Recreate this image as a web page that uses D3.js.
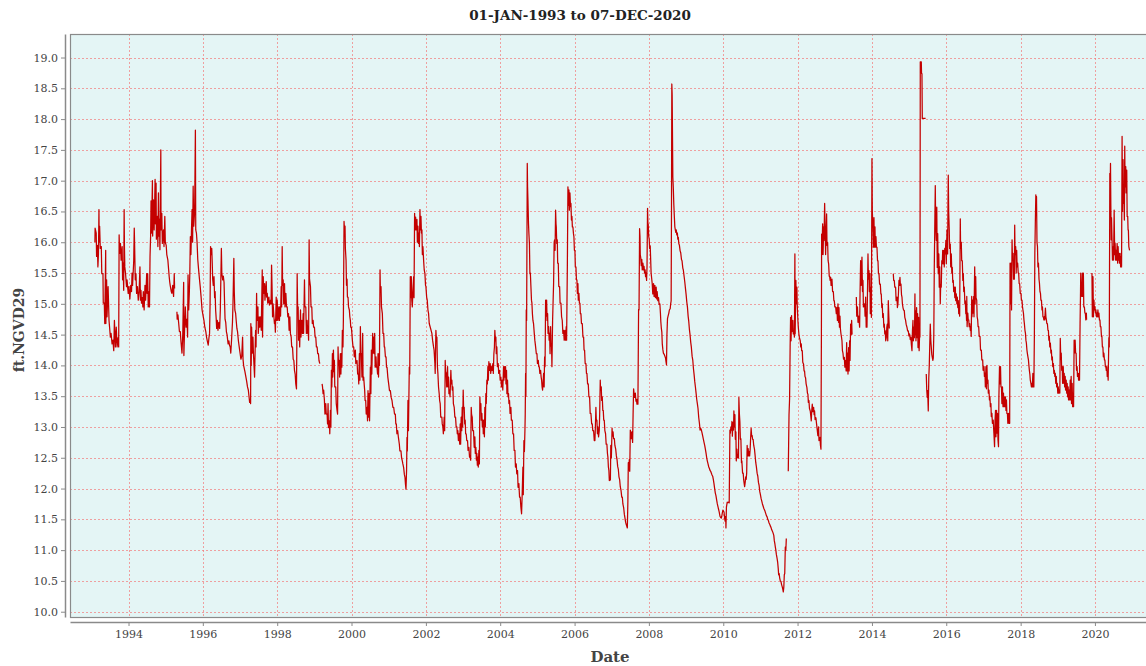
<!DOCTYPE html>
<html>
<head>
<meta charset="utf-8">
<script src="https://cdn.jsdelivr.net/npm/d3@7"></script>
<style>
  body { margin: 0; background: #fff; }
  svg { display: block; }
  text { font-family: "DejaVu Serif", serif; }
</style>
</head>
<body>
<svg id="chart" width="1146" height="666"></svg>
<script>
'use strict';

const chartTitle = '01-JAN-1993 to 07-DEC-2020';
const yLabel = 'ft.NGVD29';
const xLabel = 'Date';

const yTicks = [10.0, 10.5, 11.0, 11.5, 12.0, 12.5, 13.0, 13.5, 14.0, 14.5,
  15.0, 15.5, 16.0, 16.5, 17.0, 17.5, 18.0, 18.5, 19.0];
const xTickYears = [1994, 1996, 1998, 2000, 2002, 2004, 2006, 2008, 2010,
  2012, 2014, 2016, 2018, 2020];

// axis extents (decimal years / feet)
const xExtent = [1992.426, 2021.372];
const yExtent = [9.914, 19.382];

// stage readings: [decimal year, ft NGVD29], null = missing record
const stage1993_1997 = [
  [1993.095,16.0],[1993.10,16.23],[1993.13,16.15],[1993.14,15.77],[1993.16,15.95],[1993.176,15.6],
  [1993.19,15.8],[1993.204,16.53],[1993.21,16.0],[1993.222,16.26],[1993.24,15.9],[1993.267,15.93],
  [1993.28,15.49],[1993.312,15.49],[1993.32,15.01],[1993.348,15.01],[1993.36,14.68],[1993.385,15.87],
  [1993.39,14.68],[1993.41,15.39],[1993.421,14.79],[1993.45,15.28],[1993.475,14.73],[1993.49,14.62],
  [1993.511,14.46],[1993.53,14.52],[1993.557,14.35],[1993.58,14.41],[1993.602,14.24],[1993.62,14.73],
  [1993.647,14.30],[1993.67,14.62],[1993.692,14.30],[1993.72,14.45],[1993.735,14.30],[1993.747,16.12],
  [1993.76,15.82],[1993.783,15.98],[1993.80,15.71],[1993.828,15.93],[1993.84,15.39],[1993.855,15.66],
  [1993.87,15.22],[1993.882,16.53],[1993.89,15.93],[1993.90,15.6],[1993.92,15.49],[1993.946,15.28],
  [1993.96,15.39],[1993.991,15.17],[1994.01,15.28],[1994.036,15.08],[1994.06,15.3],[1994.081,15.2],
  [1994.095,15.5],[1994.109,15.3],[1994.14,15.7],[1994.154,16.23],[1994.165,15.93],[1994.181,15.39],
  [1994.20,15.49],[1994.217,15.17],[1994.24,15.28],[1994.262,15.06],[1994.285,15.2],[1994.308,15.6],
  [1994.32,15.06],[1994.335,15.22],[1994.35,15.01],[1994.371,15.1],[1994.385,14.95],[1994.398,15.2],
  [1994.42,14.9],[1994.443,15.3],[1994.46,15.06],[1994.489,15.49],[1994.50,15.17],[1994.516,15.49],
  [1994.53,14.95],[1994.552,15.2],[1994.565,14.95],[1994.579,15.77],[1994.595,16.1],[1994.606,16.67],
  [1994.62,16.15],[1994.643,17.0],[1994.65,16.1],[1994.67,16.69],[1994.69,16.2],[1994.715,17.02],
  [1994.725,16.3],[1994.742,16.96],[1994.75,16.05],[1994.778,16.42],[1994.79,15.93],[1994.805,16.8],
  [1994.815,16.1],[1994.833,16.37],[1994.845,15.88],[1994.869,17.5],[1994.875,16.2],[1994.896,16.47],
  [1994.91,15.98],[1994.941,16.2],[1994.955,15.93],[1994.977,16.42],[1994.99,16.0],[1995.014,15.95],
  [1995.03,15.8],[1995.059,15.71],[1995.08,15.55],[1995.095,15.44],[1995.11,15.35],[1995.122,15.3],
  [1995.15,15.2],[1995.167,15.17],[1995.19,15.3],[1995.213,15.12],[1995.231,15.49],[1995.24,15.25],
  [1995.27,null],
  [1995.303,14.87],[1995.31,14.75],[1995.33,14.82],[1995.348,14.7],[1995.37,14.55],[1995.394,14.55],
  [1995.41,14.4],[1995.439,14.2],[1995.46,14.5],[1995.484,15.35],[1995.49,14.16],[1995.51,14.6],
  [1995.529,14.95],[1995.55,14.62],[1995.575,14.75],[1995.59,14.46],[1995.602,15.47],[1995.62,14.9],
  [1995.638,15.2],[1995.65,15.5],[1995.665,16.09],[1995.68,15.8],[1995.695,16.2],[1995.71,16.53],
  [1995.725,16.0],[1995.74,16.91],[1995.756,16.26],[1995.78,16.5],[1995.80,17.82],[1995.81,16.2],
  [1995.828,16.15],[1995.845,16.0],[1995.864,15.72],[1995.88,15.6],[1995.91,15.4],[1995.93,15.28],
  [1995.955,15.1],[1995.98,14.9],[1996.009,14.8],[1996.03,14.73],[1996.054,14.62],[1996.08,14.55],
  [1996.10,14.46],[1996.12,14.4],[1996.145,14.33],[1996.165,14.45],[1996.181,14.52],[1996.195,15.0],
  [1996.208,15.93],[1996.22,15.8],[1996.24,15.9],[1996.253,15.66],[1996.265,15.4],[1996.281,15.3],
  [1996.30,15.44],[1996.317,15.1],[1996.33,15.2],[1996.344,14.9],[1996.36,14.75],[1996.371,14.6],
  [1996.39,14.73],[1996.407,14.57],[1996.43,14.7],[1996.452,14.6],[1996.47,14.9],[1996.498,15.9],
  [1996.51,15.5],[1996.534,15.39],[1996.55,15.45],[1996.57,15.35],[1996.585,15.0],[1996.597,14.75],
  [1996.615,14.7],[1996.633,14.55],[1996.65,14.5],[1996.679,14.35],[1996.70,14.4],[1996.715,14.33],
  [1996.735,14.3],[1996.751,14.2],[1996.77,14.4],[1996.796,14.7],[1996.81,15.0],[1996.833,15.74],
  [1996.845,15.2],[1996.86,14.9],[1996.88,14.85],[1996.896,14.73],[1996.915,14.6],[1996.932,14.55],
  [1996.955,14.4],[1996.977,14.3],[1997.00,14.2],[1997.023,14.1],[1997.045,14.15],[1997.068,14.46],
  [1997.08,14.1],[1997.095,14.0],[1997.131,13.9],[1997.16,13.8],[1997.176,13.75],[1997.20,13.65],
  [1997.222,13.6],[1997.24,13.5],[1997.258,13.4],[1997.275,13.45]
];

const stage1997_2002 = [
  [1997.284,13.38],[1997.29,14.68],[1997.30,14.0],[1997.311,14.62],[1997.33,14.2],[1997.347,14.46],
  [1997.36,14.19],[1997.391,13.81],[1997.40,14.1],[1997.418,14.57],[1997.43,14.3],[1997.445,15.17],
  [1997.455,14.73],[1997.481,14.95],[1997.49,14.52],[1997.517,14.79],[1997.53,14.62],[1997.553,14.79],
  [1997.57,14.57],[1997.597,15.55],[1997.605,14.46],[1997.624,15.44],[1997.635,15.17],[1997.66,15.33],
  [1997.67,15.06],[1997.705,15.36],[1997.715,15.11],[1997.732,15.17],[1997.745,15.01],[1997.776,15.11],
  [1997.79,14.98],[1997.821,15.06],[1997.835,15.0],[1997.848,15.63],[1997.86,15.3],[1997.875,14.79],
  [1997.89,15.0],[1997.911,14.79],[1997.925,14.68],[1997.937,14.73],[1997.95,14.54],[1997.973,15.11],
  [1997.985,14.73],[1998.0,15.06],[1998.02,14.73],[1998.045,14.95],[1998.06,14.73],[1998.072,14.95],
  [1998.09,14.8],[1998.107,15.28],[1998.12,14.95],[1998.134,15.93],[1998.145,15.3],[1998.161,15.39],
  [1998.175,15.0],[1998.197,15.33],[1998.21,14.95],[1998.233,15.17],[1998.25,14.95],[1998.269,14.95],
  [1998.285,14.79],[1998.304,14.84],[1998.32,14.57],[1998.34,14.79],[1998.355,14.52],[1998.376,14.46],
  [1998.39,14.3],[1998.412,14.30],[1998.43,14.1],[1998.448,14.08],[1998.465,13.92],[1998.483,13.86],
  [1998.50,13.70],[1998.519,13.62],[1998.53,14.5],[1998.537,15.49],[1998.55,14.9],[1998.564,14.95],
  [1998.575,14.41],[1998.591,14.73],[1998.605,14.30],[1998.627,14.9],[1998.64,14.46],[1998.662,14.73],
  [1998.68,14.52],[1998.698,14.84],[1998.71,14.52],[1998.734,15.39],[1998.745,14.95],[1998.77,14.95],
  [1998.785,14.52],[1998.806,14.73],[1998.82,14.52],[1998.832,14.62],[1998.845,14.41],[1998.859,16.04],
  [1998.87,15.4],[1998.895,15.28],[1998.91,14.95],[1998.931,14.95],[1998.945,14.68],[1998.967,14.73],
  [1998.98,14.62],[1999.002,14.62],[1999.02,14.46],[1999.038,14.46],[1999.055,14.30],[1999.074,14.30],
  [1999.09,14.19],[1999.11,14.19],[1999.125,14.08],[1999.146,14.03],
  [1999.18,null],
  [1999.208,13.70],[1999.22,13.65],[1999.235,13.54],[1999.25,13.6],[1999.271,13.43],[1999.285,13.21],
  [1999.307,13.38],[1999.32,13.21],[1999.343,13.21],[1999.355,13.05],[1999.369,13.38],[1999.38,12.99],
  [1999.405,13.10],[1999.415,12.89],[1999.432,13.27],[1999.445,13.0],[1999.459,13.92],[1999.47,13.65],
  [1999.486,14.19],[1999.495,13.81],[1999.513,14.25],[1999.525,13.9],[1999.539,14.08],[1999.55,13.65],
  [1999.575,13.65],[1999.59,13.38],[1999.611,13.27],[1999.625,13.21],[1999.638,14.30],[1999.65,14.0],
  [1999.665,14.08],[1999.68,13.81],[1999.701,14.19],[1999.715,13.86],[1999.727,14.19],[1999.74,13.97],
  [1999.754,14.57],[1999.77,14.30],[1999.781,14.73],[1999.799,16.34],[1999.81,16.2],[1999.826,16.26],
  [1999.835,15.9],[1999.853,15.71],[1999.865,15.3],[1999.88,15.4],[1999.89,15.11],[1999.906,15.11],
  [1999.92,14.95],[1999.942,14.9],[1999.955,14.79],[1999.969,14.73],[1999.98,14.62],[1999.996,14.62],
  [2000.01,14.52],[2000.023,14.41],[2000.04,14.30],[2000.059,14.30],[2000.075,14.14],[2000.103,14.25],
  [2000.115,14.03],[2000.148,14.08],[2000.165,13.86],[2000.184,13.86],[2000.195,13.70],[2000.211,14.19],
  [2000.225,13.76],[2000.238,14.63],[2000.25,14.2],[2000.264,14.19],[2000.28,13.81],[2000.30,14.52],
  [2000.31,13.76],[2000.327,13.81],[2000.34,13.70],[2000.354,13.59],[2000.365,13.43],[2000.381,13.43],
  [2000.395,13.21],[2000.417,13.32],[2000.43,13.10],[2000.443,13.59],[2000.455,13.16],[2000.47,13.54],
  [2000.485,13.10],[2000.506,13.97],[2000.52,13.54],[2000.533,14.25],[2000.545,13.86],[2000.569,14.52],
  [2000.58,14.2],[2000.596,14.46],[2000.61,14.19],[2000.622,14.52],[2000.635,13.97],[2000.658,14.14],
  [2000.67,13.97],[2000.685,13.97],[2000.70,13.86],[2000.712,14.19],[2000.725,13.81],[2000.739,14.19],
  [2000.75,14.0],[2000.766,15.55],[2000.775,15.2],[2000.792,15.28],[2000.805,14.95],[2000.828,14.84],
  [2000.845,14.52],[2000.864,14.52],[2000.88,14.30],[2000.891,14.30],[2000.91,14.14],[2000.927,14.14],
  [2000.94,13.97],[2000.954,13.97],[2000.975,13.81],[2000.998,13.70],[2001.02,13.59],[2001.043,13.59],
  [2001.065,13.48],[2001.088,13.43],[2001.11,13.32],[2001.133,13.32],[2001.155,13.21],[2001.177,13.21],
  [2001.19,13.05],[2001.204,13.05],[2001.22,12.89],[2001.24,12.94],[2001.26,12.83],[2001.285,12.72],
  [2001.30,12.61],[2001.329,12.61],[2001.345,12.50],[2001.365,12.45],[2001.38,12.40],[2001.401,12.34],
  [2001.42,12.23],[2001.437,12.18],[2001.45,12.07],[2001.464,11.99],[2001.48,12.3],[2001.491,12.83],
  [2001.50,12.61],[2001.517,13.43],[2001.53,12.94],[2001.553,13.97],[2001.565,13.86],[2001.58,15.44],
  [2001.59,15.1],[2001.607,15.44],[2001.62,15.06],[2001.634,14.95],[2001.65,15.2],[2001.67,15.44],
  [2001.68,15.1],[2001.696,16.47],[2001.705,16.2],[2001.723,16.41],[2001.735,16.2],[2001.759,16.37],
  [2001.77,16.0],[2001.786,16.26],[2001.80,15.98],[2001.813,16.15],[2001.825,15.93],[2001.84,16.53],
  [2001.85,16.2],[2001.867,16.42],[2001.88,16.15],[2001.893,16.2],[2001.905,15.8],[2001.92,15.93],
  [2001.938,15.71],[2001.955,15.55],[2001.974,15.49],[2001.99,15.3],[2002.001,15.28],[2002.02,15.11],
  [2002.036,15.06],[2002.055,14.9],[2002.072,14.84],[2002.09,14.68],[2002.117,14.62]
];

const stage2002_2007 = [
  [2002.161,14.52],[2002.18,14.41],[2002.206,14.30],[2002.22,14.25],[2002.242,14.03],[2002.25,13.87],
  [2002.269,14.57],[2002.28,14.46],[2002.296,14.46],[2002.31,13.98],[2002.323,13.87],[2002.34,13.65],
  [2002.358,13.54],[2002.37,13.43],[2002.385,13.38],[2002.40,13.16],[2002.43,13.16],[2002.44,13.05],
  [2002.457,13.00],[2002.47,12.89],[2002.493,13.16],[2002.505,12.94],[2002.52,14.08],[2002.53,13.9],
  [2002.547,13.87],[2002.56,13.65],[2002.583,13.98],[2002.595,13.65],[2002.61,13.81],[2002.62,13.54],
  [2002.637,13.60],[2002.65,13.49],[2002.672,13.92],[2002.685,13.7],[2002.699,13.76],[2002.71,13.6],
  [2002.726,13.65],[2002.74,13.38],[2002.762,13.32],[2002.78,13.16],[2002.798,13.16],[2002.815,13.00],
  [2002.834,13.00],[2002.845,12.89],[2002.861,12.94],[2002.875,12.78],[2002.897,12.89],[2002.91,12.72],
  [2002.924,13.05],[2002.935,12.72],[2002.95,13.16],[2002.965,12.94],[2002.977,13.32],[2002.99,13.0],
  [2003.004,13.60],[2003.015,13.3],[2003.031,13.32],[2003.045,13.05],[2003.058,13.11],[2003.07,12.89],
  [2003.085,12.89],[2003.10,12.78],[2003.121,12.78],[2003.135,12.62],[2003.157,12.67],[2003.175,12.51],
  [2003.193,12.51],[2003.205,12.46],[2003.22,13.32],[2003.23,13.2],[2003.247,13.16],[2003.26,12.94],
  [2003.282,12.94],[2003.30,12.67],[2003.318,12.84],[2003.33,12.57],[2003.345,12.67],[2003.36,12.46],
  [2003.372,12.57],[2003.385,12.38],[2003.399,12.51],[2003.41,12.35],[2003.426,12.62],[2003.44,12.40],
  [2003.453,13.49],[2003.465,13.3],[2003.48,13.38],[2003.49,13.11],[2003.507,13.22],[2003.52,13.0],
  [2003.534,13.11],[2003.545,12.89],[2003.56,13.11],[2003.575,12.84],[2003.587,13.32],[2003.60,13.0],
  [2003.614,13.54],[2003.625,13.38],[2003.641,13.76],[2003.655,13.7],[2003.668,13.98],[2003.68,13.76],
  [2003.695,14.06],[2003.71,13.92],[2003.731,14.03],[2003.745,13.87],[2003.767,13.98],[2003.78,13.92],
  [2003.803,14.03],[2003.815,13.87],[2003.83,14.19],[2003.845,14.3],[2003.856,14.57],[2003.87,14.4],
  [2003.883,14.46],[2003.895,14.19],[2003.91,14.30],[2003.925,13.98],[2003.946,14.03],[2003.96,13.87],
  [2003.982,13.92],[2004.0,13.76],[2004.018,13.81],[2004.035,13.65],[2004.054,13.76],[2004.07,13.60],
  [2004.09,13.98],[2004.10,13.76],[2004.117,13.98],[2004.13,13.81],[2004.144,13.98],[2004.155,13.70],
  [2004.17,13.92],[2004.18,13.54],[2004.197,13.76],[2004.21,13.49],[2004.224,13.54],[2004.235,13.38],
  [2004.251,13.43],[2004.265,13.22],[2004.287,13.32],[2004.30,13.11],[2004.323,13.11],[2004.34,12.89],
  [2004.359,12.89],[2004.375,12.62],[2004.395,12.62],[2004.41,12.35],[2004.431,12.40],[2004.445,12.24],
  [2004.466,12.29],[2004.48,12.02],[2004.502,12.08],[2004.52,11.86],[2004.538,11.86],[2004.555,11.70],
  [2004.574,11.59],[2004.59,11.9],[2004.61,12.35],[2004.62,11.9],[2004.637,12.78],[2004.65,12.6],
  [2004.664,12.94],[2004.672,13.2],[2004.682,13.87],[2004.69,13.5],[2004.70,14.9],[2004.71,14.73],
  [2004.727,17.28],[2004.735,16.9],[2004.745,16.69],[2004.76,16.3],[2004.771,16.14],[2004.785,15.98],
  [2004.798,15.49],[2004.81,15.5],[2004.825,15.28],[2004.84,15.06],[2004.852,15.01],[2004.865,14.84],
  [2004.879,14.73],[2004.895,14.68],[2004.915,14.52],[2004.93,14.41],[2004.951,14.30],[2004.97,14.19],
  [2004.987,14.19],[2005.0,14.03],[2005.023,14.08],[2005.035,13.98],[2005.049,13.98],[2005.065,13.87],
  [2005.085,13.92],[2005.10,13.81],[2005.112,13.76],[2005.125,13.65],[2005.139,13.60],[2005.15,13.7],
  [2005.166,13.87],[2005.18,13.65],[2005.193,14.14],[2005.205,13.98],[2005.22,15.06],[2005.23,14.8],
  [2005.247,15.06],[2005.26,14.73],[2005.274,14.84],[2005.285,14.52],[2005.301,14.63],[2005.315,14.41],
  [2005.328,14.52],[2005.34,14.19],[2005.354,14.63],[2005.365,14.35],[2005.381,14.30],[2005.39,13.98],
  [2005.408,14.73],[2005.42,15.0],[2005.435,15.33],[2005.45,16.0],[2005.462,16.04],[2005.475,15.87],
  [2005.489,16.52],[2005.50,16.3],[2005.507,16.25],[2005.52,15.98],[2005.534,16.04],[2005.545,15.66],
  [2005.561,15.66],[2005.575,15.28],[2005.597,15.28],[2005.61,15.01],[2005.633,15.01],[2005.65,14.79],
  [2005.668,14.73],[2005.685,14.52],[2005.704,14.57],[2005.72,14.41],[2005.74,14.57],[2005.755,14.41],
  [2005.776,14.63],[2005.785,14.41],[2005.794,14.95],[2005.805,15.6],[2005.821,16.90],[2005.835,16.6],
  [2005.848,16.85],[2005.86,16.52],[2005.875,16.80],[2005.89,16.58],[2005.902,16.63],[2005.915,16.36],
  [2005.929,16.42],[2005.94,16.25],[2005.955,16.25],[2005.97,16.14],[2005.982,16.09],[2005.995,15.87],
  [2006.009,15.87],[2006.02,15.6],[2006.036,15.60],[2006.05,15.39],[2006.063,15.39],[2006.075,15.17],
  [2006.09,15.33],[2006.10,15.06],[2006.117,15.17],[2006.13,15.01],[2006.144,15.01],[2006.155,14.84],
  [2006.171,14.84],[2006.185,14.68],[2006.207,14.68],[2006.225,14.46],[2006.243,14.46],[2006.255,14.25],
  [2006.269,14.25],[2006.285,14.03],[2006.305,14.03],[2006.32,13.87],[2006.332,13.87],[2006.35,13.70],
  [2006.368,13.70],[2006.385,13.49],[2006.404,13.49],[2006.42,13.22],[2006.44,13.22],[2006.46,13.05],
  [2006.476,13.05],[2006.49,12.94],[2006.512,12.94],[2006.53,12.78],[2006.547,12.78],[2006.56,13.0],
  [2006.574,13.32],[2006.585,13.1],[2006.601,13.11],[2006.615,12.89],[2006.628,13.0],[2006.645,12.84],
  [2006.664,12.94],[2006.675,13.2],[2006.691,13.76],[2006.70,13.6],[2006.718,13.65],[2006.73,13.43],
  [2006.745,13.49],[2006.76,13.27],[2006.772,13.27],[2006.785,13.11],[2006.799,13.11],[2006.815,12.94],
  [2006.834,12.89],[2006.85,12.72],[2006.87,12.72],[2006.885,12.57],[2006.897,12.51],[2006.91,12.35],
  [2006.924,12.29],[2006.935,12.13]
];

const stage2007_2011 = [
  [2006.964,12.14],[2006.975,12.7],[2006.99,12.5],[2007.009,12.98],[2007.02,12.85],[2007.036,12.92],
  [2007.05,12.81],[2007.071,12.81],[2007.085,12.70],[2007.107,12.64],[2007.125,12.53],[2007.143,12.47],
  [2007.16,12.36],[2007.178,12.31],[2007.195,12.19],[2007.214,12.14],[2007.23,12.03],[2007.25,11.97],
  [2007.27,11.86],[2007.286,11.86],[2007.30,11.75],[2007.321,11.69],[2007.34,11.58],[2007.357,11.52],
  [2007.375,11.45],[2007.393,11.41],[2007.41,11.38],[2007.42,11.36],[2007.435,11.8],[2007.446,12.42],
  [2007.46,12.3],[2007.473,12.47],[2007.485,12.28],[2007.50,12.95],[2007.515,12.9],[2007.527,12.81],
  [2007.545,12.92],[2007.562,12.75],[2007.575,13.2],[2007.589,13.62],[2007.60,13.55],[2007.616,13.48],
  [2007.635,13.55],[2007.652,13.42],[2007.665,13.45],[2007.679,13.37],[2007.69,13.45],[2007.705,13.37],
  [2007.723,14.91],[2007.735,14.9],[2007.75,16.22],[2007.76,16.1],[2007.768,15.80],[2007.78,15.75],
  [2007.795,15.62],[2007.81,15.72],[2007.821,15.55],[2007.84,15.66],[2007.857,15.55],[2007.87,15.61],
  [2007.884,15.50],[2007.90,15.55],[2007.911,15.44],[2007.925,15.50],[2007.938,15.38],[2007.95,15.6],
  [2007.964,16.55],[2007.975,16.3],[2007.982,16.3],[2007.995,16.1],[2008.009,16.05],[2008.02,15.9],
  [2008.036,15.94],[2008.06,15.5],[2008.089,15.33],[2008.105,15.16],[2008.125,15.33],[2008.14,15.12],
  [2008.161,15.30],[2008.175,15.10],[2008.196,15.27],[2008.21,15.08],[2008.223,15.20],[2008.24,15.05],
  [2008.259,15.10],[2008.275,14.99],[2008.295,15.0],[2008.31,14.85],[2008.321,14.71],[2008.335,14.6],
  [2008.348,14.54],[2008.36,14.35],[2008.375,14.26],[2008.39,14.2],[2008.411,14.18],[2008.43,14.15],
  [2008.447,14.12],[2008.46,14.06],[2008.473,14.01],[2008.485,14.5],[2008.50,14.76],[2008.515,14.8],
  [2008.536,14.85],[2008.55,14.9],[2008.572,14.92],[2008.585,15.0],[2008.598,15.05],[2008.607,16.5],
  [2008.616,18.57],[2008.625,18.4],[2008.643,17.06],[2008.655,16.9],[2008.67,16.61],[2008.685,16.4],
  [2008.697,16.25],[2008.71,16.2],[2008.723,16.16],[2008.735,16.2],[2008.75,16.12],[2008.765,16.15],
  [2008.777,16.05],[2008.79,16.08],[2008.804,15.98],[2008.82,15.95],[2008.839,15.86],[2008.855,15.83],
  [2008.875,15.72],[2008.89,15.7],[2008.911,15.58],[2008.925,15.55],[2008.947,15.44],[2008.965,15.35],
  [2008.982,15.25],[2009.0,15.15],[2009.018,15.03],[2009.035,14.95],[2009.054,14.80],[2009.07,14.72],
  [2009.089,14.58],[2009.105,14.5],[2009.125,14.37],[2009.14,14.3],[2009.161,14.15],[2009.18,14.08],
  [2009.197,13.95],[2009.215,13.85],[2009.232,13.74],[2009.25,13.65],[2009.268,13.55],[2009.285,13.45],
  [2009.304,13.37],[2009.32,13.3],[2009.34,13.15],[2009.36,13.05],[2009.375,12.95],[2009.39,12.98],
  [2009.411,12.95],[2009.43,12.9],[2009.447,12.85],[2009.465,12.8],[2009.482,12.75],[2009.50,12.7],
  [2009.518,12.64],[2009.535,12.58],[2009.554,12.5],[2009.57,12.45],[2009.59,12.4],[2009.61,12.35],
  [2009.625,12.33],[2009.64,12.3],[2009.661,12.28],[2009.68,12.25],[2009.697,12.22],[2009.715,12.2],
  [2009.732,12.15],[2009.75,12.08],[2009.768,12.0],[2009.785,11.93],[2009.804,11.88],[2009.82,11.82],
  [2009.84,11.75],[2009.86,11.7],[2009.875,11.66],[2009.89,11.62],[2009.911,11.55],[2009.93,11.53],
  [2009.947,11.52],[2009.96,11.55],[2009.974,11.6],[2009.99,11.65],[2010.0,11.64],[2010.02,11.62],
  [2010.036,11.52],[2010.05,11.47],[2010.065,11.55],[2010.072,11.36],[2010.085,11.7],[2010.107,11.78],
  [2010.125,11.77],[2010.143,11.78],[2010.16,11.77],[2010.179,12.95],[2010.19,12.9],[2010.206,13.0],
  [2010.22,12.95],[2010.233,13.09],[2010.245,12.85],[2010.259,13.07],[2010.275,12.95],[2010.286,13.26],
  [2010.30,13.0],[2010.313,13.2],[2010.325,12.8],[2010.34,12.92],[2010.35,12.45],[2010.367,12.64],
  [2010.38,12.5],[2010.393,12.55],[2010.41,12.5],[2010.42,13.48],[2010.435,13.2],[2010.447,13.09],
  [2010.46,12.8],[2010.474,12.81],[2010.49,12.42],[2010.50,12.45],[2010.52,12.25],[2010.536,12.25],
  [2010.55,12.14],[2010.563,12.08],[2010.575,12.03],[2010.59,12.10],[2010.605,12.19],[2010.617,12.15],
  [2010.63,12.25],[2010.643,12.7],[2010.655,12.53],[2010.67,12.65],[2010.685,12.53],[2010.697,12.60],
  [2010.71,12.53],[2010.724,12.64],[2010.735,12.8],[2010.75,12.98],[2010.765,12.85],[2010.777,12.86],
  [2010.79,12.80],[2010.804,12.80],[2010.82,12.70],[2010.84,12.64],[2010.855,12.55],[2010.875,12.42],
  [2010.89,12.36],[2010.911,12.25],[2010.93,12.2],[2010.947,12.1],[2010.965,12.05],[2010.983,11.95],
  [2011.0,11.9],[2011.018,11.84],[2011.035,11.8],[2011.054,11.75],[2011.07,11.72],[2011.09,11.68],
  [2011.105,11.66],[2011.125,11.63],[2011.14,11.6],[2011.161,11.56],[2011.18,11.54],[2011.197,11.5],
  [2011.215,11.48],[2011.233,11.44],[2011.25,11.42],[2011.268,11.39],[2011.285,11.37],[2011.304,11.33],
  [2011.32,11.31],[2011.34,11.28],[2011.36,11.24],[2011.375,11.15],[2011.39,11.1],[2011.402,11.05],
  [2011.415,11.0],[2011.429,10.93],[2011.445,10.88],[2011.465,10.80],[2011.48,10.7],[2011.491,10.60],
  [2011.505,10.62],[2011.518,10.55],[2011.535,10.5],[2011.554,10.49],[2011.57,10.44],[2011.59,10.40],
  [2011.605,10.36],[2011.616,10.32],[2011.63,10.4],[2011.643,10.6],[2011.655,10.62],[2011.67,11.05],
  [2011.685,11.0],[2011.697,11.19],
  [2011.72,null],
  [2011.75,12.28],[2011.77,13.2]
];

const stage2011_2016 = [
  [2011.785,13.45],[2011.80,14.3],[2011.812,14.78],[2011.825,14.40],[2011.839,14.81],[2011.85,14.55],
  [2011.874,14.73],[2011.885,14.51],[2011.901,14.56],[2011.915,14.46],[2011.928,15.81],[2011.935,14.51],
  [2011.955,15.38],[2011.965,15.0],[2011.982,15.27],[2011.99,15.0],[2012.009,14.73],[2012.02,14.62],
  [2012.036,14.51],[2012.05,14.45],[2012.072,14.40],[2012.085,14.30],[2012.099,14.35],[2012.11,14.24],
  [2012.126,14.24],[2012.14,14.05],[2012.161,14.02],[2012.175,13.91],[2012.188,13.91],[2012.20,13.82],
  [2012.215,13.80],[2012.23,13.70],[2012.251,13.64],[2012.265,13.55],[2012.278,13.53],[2012.29,13.40],
  [2012.305,13.43],[2012.32,13.30],[2012.341,13.26],[2012.355,13.18],[2012.368,13.10],[2012.38,13.26],
  [2012.395,13.37],[2012.41,13.25],[2012.431,13.32],[2012.445,13.2],[2012.457,13.26],[2012.47,13.12],
  [2012.493,13.15],[2012.51,13.05],[2012.529,12.95],[2012.545,12.86],[2012.565,13.0],[2012.575,12.78],
  [2012.601,12.83],[2012.615,12.7],[2012.628,12.64],[2012.64,14.5],[2012.646,16.13],[2012.655,15.8],
  [2012.673,16.3],[2012.685,15.8],[2012.70,16.25],[2012.71,16.03],[2012.727,16.63],[2012.74,16.2],
  [2012.753,15.8],[2012.765,16.1],[2012.78,16.46],[2012.79,15.95],[2012.807,16.0],[2012.82,15.7],
  [2012.834,15.65],[2012.85,15.45],[2012.861,15.45],[2012.875,15.38],[2012.888,15.43],[2012.90,15.3],
  [2012.924,15.40],[2012.94,15.2],[2012.96,15.20],[2012.975,15.05],[2012.987,15.05],[2013.0,14.95],
  [2013.023,14.95],[2013.04,14.84],[2013.058,14.94],[2013.07,14.73],[2013.085,15.0],[2013.10,14.7],
  [2013.112,14.94],[2013.125,14.62],[2013.139,14.8],[2013.15,14.6],[2013.166,14.51],[2013.18,14.46],
  [2013.193,14.40],[2013.205,14.24],[2013.22,14.2],[2013.235,14.1],[2013.256,14.13],[2013.27,13.97],
  [2013.292,14.08],[2013.305,13.91],[2013.319,14.37],[2013.33,13.91],[2013.346,14.2],[2013.355,13.86],
  [2013.372,14.29],[2013.385,13.91],[2013.399,14.40],[2013.41,14.08],[2013.426,14.67],[2013.44,14.5],
  [2013.453,14.73],[2013.465,14.5],
  [2013.52,null],
  [2013.579,15.11],[2013.59,14.8],[2013.61,14.95],[2013.624,14.70],[2013.645,14.8],[2013.668,14.62],
  [2013.68,15.2],[2013.695,15.70],[2013.71,15.3],[2013.731,15.76],[2013.745,15.2],[2013.758,15.38],
  [2013.77,14.95],[2013.803,15.0],[2013.815,14.8],[2013.83,15.11],[2013.845,14.62],[2013.866,14.62],
  [2013.88,15.2],[2013.893,15.81],[2013.905,15.4],[2013.92,15.54],[2013.93,15.2],[2013.946,15.49],
  [2013.955,14.84],[2013.973,15.27],[2013.985,14.78],[2014.0,17.36],[2014.01,16.5],[2014.027,16.25],
  [2014.04,15.92],[2014.054,16.4],[2014.065,15.92],[2014.081,16.25],[2014.09,15.92],[2014.108,16.09],
  [2014.12,15.92],[2014.135,15.92],[2014.15,15.70],[2014.162,15.70],[2014.175,15.49],[2014.189,15.49],
  [2014.205,15.32],[2014.225,15.32],[2014.24,15.16],[2014.251,15.16],[2014.265,14.94],[2014.278,15.0],
  [2014.29,14.78],[2014.305,14.84],[2014.32,14.62],[2014.332,14.67],[2014.345,14.51],[2014.359,14.56],
  [2014.37,14.4],[2014.386,14.45],[2014.40,14.62],[2014.413,14.67],[2014.425,14.4],[2014.44,15.05],
  [2014.455,14.78],[2014.467,14.6],
  [2014.52,null],
  [2014.574,15.49],[2014.585,15.38],[2014.601,15.38],[2014.615,15.27],[2014.637,15.27],[2014.65,15.05],
  [2014.673,15.11],[2014.685,14.94],[2014.70,15.0],[2014.715,15.2],[2014.727,15.38],[2014.74,15.3],
  [2014.754,15.43],[2014.765,15.3],[2014.781,15.32],[2014.795,15.15],[2014.808,15.11],[2014.82,15.0],
  [2014.835,14.94],[2014.85,14.90],[2014.87,14.89],[2014.885,14.78],[2014.906,14.73],[2014.92,14.67],
  [2014.942,14.62],[2014.96,14.56],[2014.978,14.56],[2014.995,14.48],[2015.014,14.51],[2015.03,14.42],
  [2015.05,14.46],[2015.06,14.35],[2015.077,14.24],[2015.09,14.56],[2015.104,14.73],[2015.115,14.4],
  [2015.131,14.62],[2015.145,14.45],[2015.157,15.16],[2015.165,14.5],[2015.175,14.89],[2015.185,14.40],
  [2015.202,14.94],[2015.215,14.45],[2015.229,14.84],[2015.24,14.29],[2015.256,14.78],[2015.27,14.24],
  [2015.283,14.51],[2015.292,14.46],[2015.301,18.93],[2015.328,18.93],[2015.335,18.74],[2015.346,18.74],
  [2015.355,18.01],[2015.40,18.01],[2015.444,18.01],
  [2015.453,null],
  [2015.462,13.86],[2015.475,13.6],[2015.489,13.48],[2015.50,13.59],[2015.516,13.26],[2015.53,13.8],
  [2015.543,14.0],[2015.555,14.3],[2015.57,14.67],[2015.585,14.4],[2015.597,14.3],[2015.61,14.18],
  [2015.624,14.13],[2015.64,14.08],[2015.651,14.12],[2015.665,14.5],[2015.678,15.6],[2015.69,16.2],
  [2015.705,16.92],[2015.715,16.3],[2015.732,16.03],[2015.745,16.57],[2015.758,15.59],[2015.77,16.14],
  [2015.785,15.49],[2015.80,15.81],[2015.812,15.27],[2015.825,15.6],[2015.839,15.0],[2015.85,15.3],
  [2015.866,15.27],[2015.88,15.7],[2015.893,15.65],[2015.905,15.87],[2015.92,15.65],[2015.935,15.87],
  [2015.947,15.6],[2015.96,15.9],[2015.974,15.81],[2015.99,16.03],[2016.001,15.65],[2016.02,16.2],
  [2016.037,15.81],[2016.045,16.5],[2016.054,17.09],[2016.065,16.5],[2016.081,16.19],[2016.09,15.9],
  [2016.108,15.97],[2016.12,15.6],[2016.135,15.81],[2016.15,15.5],[2016.162,15.59],[2016.175,15.35],
  [2016.189,15.38],[2016.20,15.2],[2016.216,15.27],[2016.23,15.1],[2016.243,15.27],[2016.255,15.05],
  [2016.27,15.16],[2016.285,15.0],[2016.297,15.11],[2016.31,14.94],[2016.324,15.05],[2016.335,14.84],
  [2016.35,14.95],[2016.36,14.8],[2016.377,16.38],[2016.385,15.9],[2016.404,16.0],[2016.415,15.7],
  [2016.431,15.7],[2016.445,15.38],[2016.458,15.49],[2016.47,15.2],[2016.485,15.27],[2016.50,15.0],
  [2016.512,15.05],[2016.525,14.84],[2016.539,14.84],[2016.545,14.73]
];

const stage2016_2020 = [
  [2016.551,15.12],[2016.56,14.63],[2016.578,14.85],[2016.59,14.74],[2016.604,14.74],[2016.615,14.63],
  [2016.631,14.68],[2016.645,14.57],[2016.658,14.63],[2016.67,14.47],[2016.684,15.12],[2016.69,14.79],
  [2016.711,15.06],[2016.72,14.85],[2016.737,15.12],[2016.745,14.79],[2016.764,15.60],[2016.775,15.0],
  [2016.791,15.44],[2016.80,15.1],[2016.818,15.06],[2016.83,14.79],[2016.844,14.74],[2016.855,14.63],
  [2016.871,14.63],[2016.885,14.47],[2016.907,14.47],[2016.92,14.25],[2016.942,14.25],[2016.955,14.09],
  [2016.978,14.09],[2016.99,13.92],[2017.013,13.98],[2017.025,13.82],[2017.04,13.87],[2017.05,13.65],
  [2017.066,13.98],[2017.08,13.62],[2017.093,14.0],[2017.105,13.71],[2017.12,13.76],[2017.13,13.55],
  [2017.147,13.60],[2017.16,13.44],[2017.173,13.49],[2017.185,13.33],[2017.20,13.38],[2017.21,13.17],
  [2017.227,13.22],[2017.24,13.06],[2017.262,13.11],[2017.28,12.90],[2017.298,12.68],[2017.31,13.1],
  [2017.324,13.27],[2017.335,12.84],[2017.351,13.27],[2017.365,12.9],[2017.378,13.22],[2017.39,12.79],
  [2017.404,12.68],[2017.415,13.5],[2017.431,13.98],[2017.44,13.7],[2017.458,13.98],[2017.47,13.65],
  [2017.484,13.65],[2017.495,13.38],[2017.511,13.65],[2017.525,13.33],[2017.538,13.55],[2017.55,13.33],
  [2017.564,13.49],[2017.575,13.33],[2017.591,13.49],[2017.605,13.27],[2017.618,13.44],[2017.63,13.22],
  [2017.644,13.22],[2017.655,13.06],[2017.671,13.22],[2017.685,13.06],[2017.698,13.22],[2017.705,13.06],
  [2017.715,15.66],[2017.725,15.0],[2017.742,15.66],[2017.755,14.9],[2017.769,16.04],[2017.78,15.7],
  [2017.796,15.82],[2017.81,15.4],[2017.822,15.6],[2017.83,15.4],[2017.84,16.28],[2017.85,15.8],
  [2017.867,15.93],[2017.88,15.5],[2017.893,15.87],[2017.905,15.6],[2017.92,15.66],[2017.935,15.50],
  [2017.947,15.50],[2017.96,15.33],[2017.973,15.33],[2017.99,15.17],[2018.009,15.17],[2018.02,15.06],
  [2018.036,15.06],[2018.05,14.95],[2018.062,14.90],[2018.075,14.85],[2018.089,14.74],[2018.10,14.68],
  [2018.116,14.57],[2018.13,14.52],[2018.142,14.41],[2018.155,14.36],[2018.169,14.25],[2018.18,14.20],
  [2018.196,14.14],[2018.21,14.09],[2018.222,14.0],[2018.235,13.92],[2018.249,13.85],[2018.26,13.76],
  [2018.276,13.71],[2018.29,13.65],[2018.302,13.71],[2018.315,13.65],[2018.329,13.87],[2018.34,13.65],
  [2018.356,13.65],[2018.37,14.5],[2018.382,15.82],[2018.395,16.3],[2018.409,16.77],[2018.418,16.5],
  [2018.427,16.74],[2018.44,16.0],[2018.453,15.93],[2018.465,15.6],[2018.48,15.66],[2018.495,15.4],
  [2018.507,15.33],[2018.52,15.2],[2018.534,15.17],[2018.545,15.06],[2018.56,15.06],[2018.575,14.9],
  [2018.587,14.95],[2018.60,14.79],[2018.613,14.79],[2018.625,14.74],[2018.64,14.79],[2018.65,14.74],
  [2018.667,14.93],[2018.68,14.79],[2018.693,14.74],[2018.705,14.68],[2018.72,14.68],[2018.735,14.57],
  [2018.747,14.57],[2018.76,14.41],[2018.773,14.47],[2018.785,14.30],[2018.80,14.36],[2018.815,14.20],
  [2018.827,14.25],[2018.84,14.09],[2018.853,14.14],[2018.865,13.98],[2018.88,14.03],[2018.895,13.87],
  [2018.907,13.92],[2018.92,13.82],[2018.933,13.87],[2018.945,13.71],[2018.96,13.82],[2018.97,13.65],
  [2018.987,13.71],[2019.0,13.55],[2019.013,13.65],[2019.025,13.55],[2019.04,13.60],[2019.055,13.55],
  [2019.067,14.44],[2019.08,14.1],[2019.093,14.20],[2019.105,13.92],[2019.12,13.98],[2019.13,13.71],
  [2019.147,13.98],[2019.16,13.71],[2019.173,13.87],[2019.185,13.65],[2019.20,13.82],[2019.21,13.60],
  [2019.227,13.76],[2019.24,13.55],[2019.253,13.71],[2019.265,13.49],[2019.28,13.65],[2019.29,13.44],
  [2019.307,13.60],[2019.32,13.44],[2019.334,13.76],[2019.345,13.44],[2019.36,13.82],[2019.37,13.38],
  [2019.387,13.71],[2019.40,13.33],[2019.413,13.55],[2019.425,13.33],[2019.44,14.41],[2019.45,14.2],
  [2019.467,14.41],[2019.48,14.2],[2019.493,14.20],[2019.505,13.92],[2019.52,13.98],[2019.53,13.82],
  [2019.547,13.87],[2019.56,13.76],[2019.574,13.87],[2019.585,13.76],[2019.60,14.68],[2019.61,15.1],
  [2019.618,15.50],[2019.625,15.2],[2019.636,15.28],[2019.645,15.12],[2019.662,15.50],[2019.675,15.12],
  [2019.689,15.50],[2019.70,14.95],[2019.716,14.95],[2019.73,14.85],[2019.742,14.85],[2019.755,14.74],
  [2019.769,14.85],[2019.775,14.74],
  [2019.85,null],
  [2019.92,15.50],[2019.93,14.79],[2019.947,15.44],[2019.96,14.79],[2019.974,15.06],[2019.985,14.90],
  [2020.0,14.95],[2020.015,14.85],[2020.027,14.90],[2020.04,14.79],[2020.054,14.85],[2020.065,14.79],
  [2020.08,14.90],[2020.09,14.79],[2020.107,14.85],[2020.12,14.74],[2020.134,14.74],[2020.145,14.63],
  [2020.16,14.63],[2020.175,14.47],[2020.187,14.47],[2020.20,14.30],[2020.214,14.30],[2020.225,14.14],
  [2020.24,14.20],[2020.255,14.09],[2020.267,14.09],[2020.28,13.98],[2020.294,13.98],[2020.305,13.92],
  [2020.32,13.98],[2020.33,13.82],[2020.347,13.87],[2020.355,13.76],[2020.374,14.45],[2020.385,14.3],
  [2020.40,17.12],[2020.41,16.9],[2020.418,17.28],[2020.427,16.6],[2020.436,16.04],[2020.445,16.4],
  [2020.462,15.98],[2020.47,15.71],[2020.489,15.93],[2020.50,15.71],[2020.516,16.52],[2020.53,15.8],
  [2020.542,15.98],[2020.555,15.71],[2020.569,15.87],[2020.58,15.71],[2020.596,15.98],[2020.61,15.66],
  [2020.622,15.93],[2020.635,15.71],[2020.649,15.82],[2020.66,15.66],[2020.676,15.82],[2020.69,15.60],
  [2020.703,15.77],[2020.715,15.60],[2020.729,17.72],[2020.74,16.5],[2020.756,17.34],[2020.765,16.63],
  [2020.783,16.63],[2020.79,16.36],[2020.80,17.56],[2020.81,16.9],[2020.827,17.23],[2020.835,16.80],
  [2020.854,17.17],[2020.865,16.42],[2020.88,16.42],[2020.89,16.2],[2020.898,16.20],[2020.91,15.93],
  [2020.93,15.87]
];

const stage = [].concat(stage1993_1997, stage1997_2002, stage2002_2007,
  stage2007_2011, stage2011_2016, stage2016_2020);

// decimal year -> UTC date
function decYear(y) {
  const yr = Math.floor(y);
  const a = Date.UTC(yr, 0, 1);
  const b = Date.UTC(yr + 1, 0, 1);
  return new Date(a + (y - yr) * (b - a));
}

const plot = { left: 70, top: 34, right: 1146, bottom: 617 };

const svg = d3.select('#chart');

const x = d3.scaleUtc()
  .domain(xExtent.map(decYear))
  .range([plot.left, plot.right]);

const y = d3.scaleLinear()
  .domain(yExtent)
  .range([plot.bottom, plot.top]);

// plot background
svg.append('rect')
  .attr('x', plot.left)
  .attr('y', plot.top)
  .attr('width', plot.right - plot.left)
  .attr('height', plot.bottom - plot.top)
  .attr('fill', '#e4f5f5');

// grid
const grid = svg.append('g')
  .attr('stroke', '#f27a7a')
  .attr('stroke-opacity', 0.7)
  .attr('stroke-width', 1)
  .attr('stroke-dasharray', '2,2');

grid.selectAll('line.h')
  .data(yTicks)
  .enter()
  .append('line')
  .attr('class', 'h')
  .attr('x1', plot.left)
  .attr('x2', plot.right)
  .attr('y1', d => Math.round(y(d)) + 0.5)
  .attr('y2', d => Math.round(y(d)) + 0.5);

grid.selectAll('line.v')
  .data(xTickYears)
  .enter()
  .append('line')
  .attr('class', 'v')
  .attr('y1', plot.top)
  .attr('y2', plot.bottom)
  .attr('x1', d => Math.round(x(decYear(d))) + 0.5)
  .attr('x2', d => Math.round(x(decYear(d))) + 0.5);

// series
const line = d3.line()
  .defined(d => d[1] !== null)
  .x(d => x(decYear(d[0])))
  .y(d => y(d[1]));

svg.append('path')
  .datum(stage)
  .attr('fill', 'none')
  .attr('stroke', '#c40000')
  .attr('stroke-width', 1.25)
  .attr('stroke-linejoin', 'round')
  .attr('d', line);

// plot frame
svg.append('rect')
  .attr('x', plot.left + 0.5)
  .attr('y', plot.top + 0.5)
  .attr('width', plot.right - plot.left + 4)
  .attr('height', plot.bottom - plot.top)
  .attr('fill', 'none')
  .attr('stroke', '#8a8a8a')
  .attr('stroke-width', 1.2);

// axes
const yAxis = d3.axisLeft(y)
  .tickValues(yTicks)
  .tickFormat(d3.format('.1f'))
  .tickSize(4)
  .tickSizeOuter(0)
  .tickPadding(3);

const gy = svg.append('g')
  .attr('transform', 'translate(65,0)')
  .call(yAxis);

const xAxis = d3.axisBottom(x)
  .tickValues(xTickYears.map(decYear))
  .tickFormat(d3.utcFormat('%Y'))
  .tickSize(4)
  .tickSizeOuter(0)
  .tickPadding(4);

const gx = svg.append('g')
  .attr('transform', 'translate(0,622)')
  .call(xAxis);

[gx, gy].forEach(g => {
  g.select('.domain').attr('stroke', '#8a8a8a').attr('stroke-width', 1.5);
  g.selectAll('.tick line').attr('stroke', '#8a8a8a');
  g.selectAll('.tick text')
    .attr('fill', '#444')
    .style('font-family', '"DejaVu Serif", serif')
    .style('font-size', '11px');
});

// titles
svg.append('text')
  .attr('x', 580)
  .attr('y', 20)
  .attr('text-anchor', 'middle')
  .style('font-size', '13.5px')
  .style('font-weight', 'bold')
  .attr('fill', '#222')
  .text(chartTitle);

svg.append('text')
  .attr('x', 610)
  .attr('y', 662)
  .attr('text-anchor', 'middle')
  .style('font-size', '15px')
  .style('font-weight', 'bold')
  .attr('fill', '#444')
  .text(xLabel);

svg.append('text')
  .attr('transform', 'translate(24,330) rotate(-90)')
  .attr('text-anchor', 'middle')
  .style('font-size', '14px')
  .style('font-weight', 'bold')
  .attr('fill', '#444')
  .text(yLabel);
</script>
</body>
</html>
